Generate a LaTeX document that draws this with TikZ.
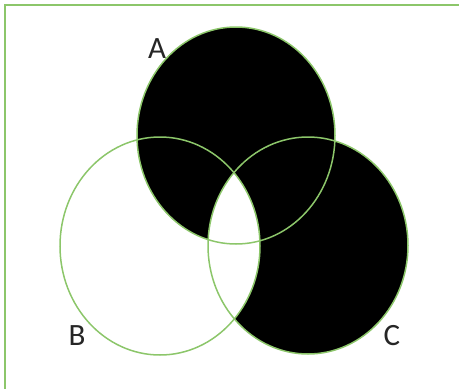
\documentclass[tikz,border=0pt]{standalone}
\usepackage{fontspec}
\setmainfont{Carlito}
\definecolor{vgreen}{RGB}{140,198,106}
\begin{document}
\begin{tikzpicture}[x=1pt,y=-1pt,
  outline/.style={draw=vgreen,line width=1.5pt},
  lbl/.style={font=\fontsize{31}{31}\selectfont,text=black!85,inner sep=0pt,anchor=center}]
\useasboundingbox (0,0) rectangle (459,389);
\def\circA{(236,135.5) ellipse [x radius=99,y radius=108.5]}
\def\circB{(160,246) ellipse [x radius=100,y radius=109]}
\def\circC{(308,245.5) ellipse [x radius=100,y radius=108.5]}
% fills
\fill[black] \circA;
\fill[black] \circC;
\begin{scope}
  \clip \circB;
  \fill[white] \circC;
\end{scope}
% outlines
\draw[outline] \circA;
\draw[outline] \circB;
\draw[outline] \circC;
% frame (top and left only)
\coordinate (fr1) at (459,4.5);
\coordinate (fr2) at (5,4.5);
\coordinate (fr3) at (5,389);
\draw[vgreen,line width=2pt] (fr1) -- (fr2) -- (fr3);
% labels
\node[lbl] (la) at (157,48.5) {A};
\node[lbl] (lb) at (77,336) {B};
\node[lbl] (lc) at (392,336) {C};
\end{tikzpicture}
\end{document}
